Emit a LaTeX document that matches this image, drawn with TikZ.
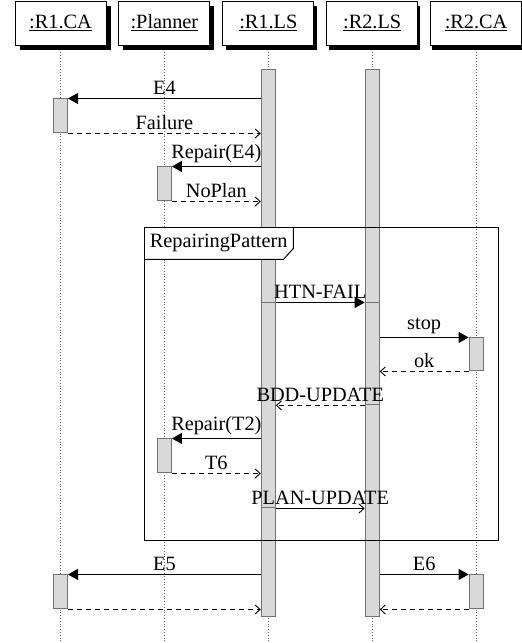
\documentclass[tikz,border=0pt]{standalone}
\usepackage{fontspec}
\setmainfont{Liberation Serif}
\usetikzlibrary{positioning,arrows.meta}

\tikzset{
  obj/.style={draw,fill=white,line width=0.9pt,minimum width=91pt,minimum height=44pt,inner sep=0pt},
  shd/.style={fill=black,minimum width=91pt,minimum height=44pt,inner sep=0pt},
  life/.style={dotted,black!60,line width=0.8pt},
  bar/.style={draw=black!55,fill=gray!30,line width=1pt,minimum width=14pt,inner sep=0pt},
  call/.style={line width=0.9pt,-{Triangle[length=10pt,width=11pt]}},
  ret/.style={line width=0.9pt,dash pattern=on 5pt off 4pt,-{Straight Barb[length=5pt,width=9pt]}},
  msg/.style={line width=0.9pt,-{Straight Barb[length=5pt,width=9pt]}},
}

\begin{document}
\begin{tikzpicture}[x=1pt,y=-1pt,font=\fontsize{20.3}{24}\selectfont]
\useasboundingbox (0,0) rectangle (522,643);
\coordinate (bot) at (0,643);
\foreach \i/\n in {0/ca1s,1/plans,2/ls1s,3/ls2s,4/ca2s}
  \node[shd] (\n) at (65.5+103*\i,28) {};
\node[obj] (ca1) at (60.5,23) {\underline{:R1.CA}};
\node[obj,right=12pt of ca1] (plan) {\underline{:Planner}};
\node[obj,right=12pt of plan] (ls1) {\underline{:R1.LS}};
\node[obj,right=12pt of ls1] (ls2) {\underline{:R2.LS}};
\node[obj,right=12pt of ls2] (ca2) {\underline{:R2.CA}};
\foreach \n in {ca1,plan,ls1,ls2,ca2}
  \draw[life] ([yshift=-7pt]\n.south) -- (\n |- bot);

\node[bar,minimum height=547pt,below=24pt of ls1] (ls1b) {};
\node[bar,minimum height=547pt,below=24pt of ls2] (ls2b) {};
\node[bar,minimum height=205pt,below=257pt of ls1] (ls1n) {};
\node[bar,minimum height=102pt,below=257pt of ls2] (ls2n) {};
\node[bar,minimum height=34pt,below=53pt of ca1] (a1) {};
\node[bar,minimum height=34pt,below=121pt of plan] (a2) {};
\node[bar,minimum height=33pt,below=292pt of ca2] (a3) {};
\node[bar,minimum height=34pt,below=393pt of plan] (a4) {};
\node[bar,minimum height=34pt,below=529pt of ca1] (a5) {};
\node[bar,minimum height=34pt,below=529pt of ca2] (a6) {};

\coordinate (frmtl) at (144,227);
\coordinate (frmbr) at (498,540);
\node[anchor=north west,fill=white,minimum width=149pt,minimum height=32pt,inner sep=0pt] (frmlbl) at (frmtl) {RepairingPattern};
\draw[line width=1pt] (frmtl) rectangle (frmbr);
\draw[line width=1pt] (frmlbl.north east) -- ([yshift=11pt]frmlbl.south east)
  -- ([xshift=-10pt]frmlbl.south east) -- (frmlbl.south west);

\draw[call] (ls1b.west |- a1.north) -- node[above]{E4} (a1.north east);
\draw[ret] (a1.south east) -- node[above]{Failure} (ls1b.west |- a1.south);
\draw[call] (ls1b.west |- a2.north) -- node[above]{Repair(E4)} (a2.north east);
\draw[ret] (a2.south east) -- node[above]{NoPlan} (ls1b.west |- a2.south);
\draw[call] (ls1n.north east) -- node[above]{HTN-FAIL} (ls2n.north west);
\draw[call] (ls2n.east |- a3.north) -- node[above]{stop} (a3.north west);
\draw[ret] (a3.south west) -- node[above]{ok} (ls2n.east |- a3.south);
\draw[ret] (ls2n.south west) -- node[above]{BDD-UPDATE} (ls1n.east |- ls2n.south);
\draw[call] (ls1b.west |- a4.north) -- node[above]{Repair(T2)} (a4.north east);
\draw[ret] (a4.south east) -- node[above]{T6} (ls1b.west |- a4.south);
\draw[msg] (ls1n.south east) -- node[above]{PLAN-UPDATE} (ls2b.west |- ls1n.south);
\draw[call] (ls1b.west |- a5.north) -- node[above]{E5} (a5.north east);
\draw[ret] (a5.south east) -- (ls1b.west |- a5.south);
\draw[call] (ls2b.east |- a6.north) -- node[above]{E6} (a6.north west);
\draw[ret] (a6.south west) -- (ls2b.east |- a6.south);
\end{tikzpicture}
\end{document}
